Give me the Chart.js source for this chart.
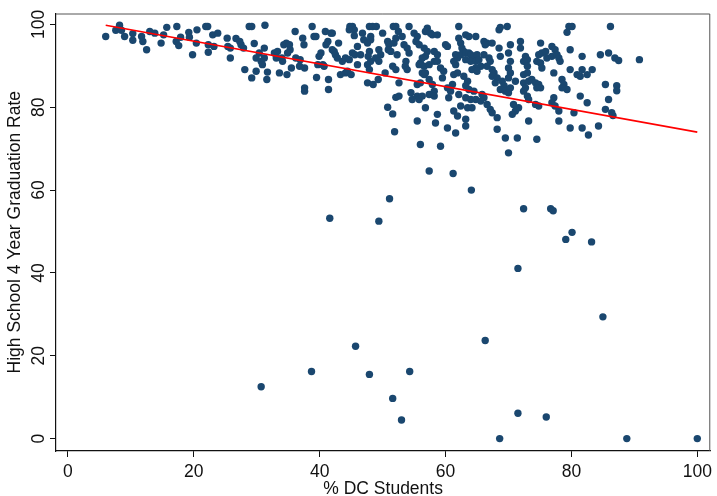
<!DOCTYPE html>
<html>
<head>
<meta charset="utf-8">
<script src="https://cdn.jsdelivr.net/npm/chart.js@4.4.1/dist/chart.umd.min.js"></script>
<style>
  html, body { margin: 0; padding: 0; background: #fff; }
  #wrap { width: 717px; height: 496px; }
</style>
</head>
<body>
<div id="wrap"><canvas id="gradChart" width="717" height="496"></canvas></div>
<script>
(function () {
  "use strict";

  // % DC students per school
  var pctDC = [
    6.0, 8.2, 7.6, 8.5, 9.0, 10.3, 10.3, 11.7, 11.9, 13.0, 13.8, 12.5, 14.8, 15.7, 15.2, 17.3, 17.2, 17.6,
    19.2, 19.3, 19.8, 20.5, 20.4, 22.2, 21.9, 22.3, 22.3, 23.0, 23.8, 23.2, 25.3, 25.4, 25.8, 25.8, 26.7, 17.9,
    27.3, 27.5, 27.9, 28.8, 29.2, 29.6, 28.1, 29.9, 29.2, 29.9, 30.4, 30.7, 31.2, 31.2, 30.9, 31.3, 31.7, 31.6,
    32.8, 33.1, 33.3, 33.6, 34.3, 34.7, 35.2, 35.3, 34.9, 34.0, 34.1, 34.8, 35.5, 36.1, 36.2, 36.9, 37.3, 37.5,
    37.6, 37.6, 38.8, 36.8, 37.6, 39.1, 39.4, 39.5, 39.9, 40.2, 39.7, 40.5, 40.7, 40.9, 41.3, 41.0, 41.8, 42.0,
    41.4, 41.4, 42.0, 42.3, 42.5, 43.0, 42.8, 43.3, 44.1, 44.4, 45.0, 43.6, 44.1, 44.7, 45.2, 45.6, 46.5, 46.0,
    44.8, 45.2, 45.5, 45.5, 44.7, 46.0, 46.8, 47.0, 47.6, 47.9, 48.4, 49.0, 48.1, 48.1, 47.9, 47.7, 48.1, 47.6,
    47.9, 47.6, 48.5, 49.3, 49.4, 49.7, 48.9, 49.4, 50.0, 50.4, 50.8, 51.0, 50.9, 51.3, 51.7, 52.1, 51.8, 52.1,
    52.5, 52.3, 51.6, 52.1, 52.6, 52.1, 52.6, 50.8, 51.6, 51.9, 53.1, 53.4, 53.9, 54.2, 53.7, 53.6, 53.9,
    55.0, 55.5, 55.3, 55.8, 54.2, 57.1, 56.8, 57.6, 57.9, 58.7, 56.6, 57.1, 56.8, 56.3, 56.0, 55.8, 56.6, 57.4,
    58.2, 58.7, 58.2, 58.7, 60.0, 60.3, 59.2, 59.7, 59.5, 56.3, 56.6, 56.8, 57.4, 54.5, 54.7, 55.5, 55.8, 56.3,
    55.5, 56.0, 57.9, 58.2, 57.4, 58.2, 56.8, 55.5, 56.0, 58.7, 58.4, 59.2, 60.5, 60.8, 61.1, 60.3, 61.3, 61.6,
    61.3, 61.9, 61.6, 62.1, 62.1, 62.4, 62.6, 62.9, 63.2, 63.7, 64.8, 62.4, 63.2, 63.7, 64.0, 64.5, 65.0, 63.2,
    64.0, 64.8, 65.3, 65.6, 64.8, 64.2, 65.0, 61.9, 62.9, 63.5, 63.2, 62.1, 63.2, 63.7, 64.5, 64.0, 64.8, 61.3,
    62.4, 63.5, 64.2, 61.9, 63.2, 63.2, 60.3, 61.6, 65.8, 66.1, 65.6, 66.6, 66.1, 66.6, 66.3, 67.4, 66.1, 66.9,
    67.1, 66.6, 67.4, 67.7, 67.4, 68.2, 67.9, 68.5, 68.7, 69.8, 68.5, 68.7, 69.0, 69.3, 68.7, 69.5, 67.1, 67.4,
    68.2, 68.2, 69.5, 70.0, 70.3, 70.0, 70.3, 70.0, 70.3, 70.0, 70.3, 70.0, 71.1, 71.9, 71.9, 72.7, 73.0, 72.4,
    73.0, 72.4, 73.0, 72.4, 72.7, 72.4, 73.0, 73.2, 70.8, 71.1, 71.6, 70.6, 73.2, 73.7, 73.2, 71.4, 74.5, 75.1,
    74.8, 75.3, 74.5, 75.1, 75.3, 74.3, 74.8, 75.1, 74.5, 74.3, 74.8, 75.9, 76.1, 76.9, 77.4, 76.9, 77.7, 78.0,
    78.2, 79.6, 80.1, 79.3, 79.8, 77.2, 78.5, 78.8, 79.3, 78.5, 77.2, 76.9, 77.4, 78.0, 78.0, 79.8, 80.9, 81.4,
    81.7, 82.5, 83.3, 81.7, 81.4, 82.5, 80.4, 79.8, 81.7, 82.7, 84.3, 84.6, 85.9, 86.9, 86.2, 85.4, 85.9, 85.4,
    86.4, 87.2, 86.6, 87.5, 90.8, 87.2,
    57.4, 61.2, 64.1, 51.1, 41.6, 49.4, 72.4, 76.7, 77.1, 80.1, 79.1, 83.2, 71.5, 85.0, 66.3, 45.7, 38.7, 47.9,
    54.3, 51.6, 53.0, 71.5, 76.0, 68.6, 88.8, 100, 30.7
  ];

  // 4-year graduation rate, same order as pctDC
  var gradRate = [
    97.1, 99.8, 98.6, 98.6, 97.1, 97.8, 96.2, 97.1, 95.9, 98.3, 97.9, 93.9, 95.5, 99.3, 97.5, 99.5, 95.9, 94.9,
    98.1, 96.9, 92.7, 98.7, 95.5, 99.5, 99.5, 95.1, 93.3, 97.5, 97.9, 94.7, 96.7, 94.7, 94.3, 91.9, 96.6, 96.9,
    95.9, 95.1, 94.3, 99.5, 99.5, 95.4, 89.1, 88.7, 87.1, 91.9, 93.1, 91.1, 94.3, 91.9, 90.3, 99.8, 88.5, 86.7,
    93.1, 91.9, 93.5, 88.3, 95.1, 95.5, 95.1, 93.9, 93.1, 91.9, 91.1, 87.9, 89.5, 98.3, 91.9, 91.5, 96.7, 95.1,
    84.7, 83.9, 99.5, 89.9, 89.5, 97.1, 97.1, 87.2, 92.3, 93.1, 90.3, 90.3, 89.9, 98.3, 95.9, 95.1, 97.9, 97.9,
    86.7, 84.3, 93.9, 93.5, 92.7, 95.5, 91.9, 87.9, 88.3, 88.7, 87.9, 91.1, 91.9, 91.5, 93.1, 92.7, 92.7, 94.7,
    99.5, 99.5, 98.7, 97.3, 98.7, 90.3, 97.9, 96.3, 95.5, 99.5, 99.5, 99.5, 97.1, 96.3, 93.5, 92.3, 91.1, 90.3,
    89.1, 85.9, 85.5, 86.7, 93.9, 92.7, 91.9, 91.1, 97.9, 88.3, 95.9, 95.1, 93.9, 93.5, 99.5, 99.5, 95.5, 96.7,
    98.3, 92.7, 89.9, 89.1, 85.9, 82.4, 82.7, 80.0, 78.4, 74.1, 97.1, 95.1, 94.3, 99.5, 91.1, 89.9, 89.1,
    97.9, 97.1, 95.9, 95.1, 93.1, 99.1, 98.3, 97.9, 97.5, 97.5, 94.3, 93.5, 92.3, 91.9, 90.7, 90.3, 89.9, 90.3,
    93.5, 92.7, 91.1, 91.1, 95.1, 94.7, 89.5, 88.7, 87.1, 88.3, 87.9, 88.3, 86.7, 83.5, 81.9, 82.7, 81.9, 82.7,
    85.5, 85.9, 85.5, 83.9, 83.1, 82.7, 79.9, 76.7, 71.0, 78.3, 76.2, 70.6, 82.3, 83.9, 85.5, 84.7, 87.9, 90.3,
    91.1, 91.9, 92.7, 99.5, 96.7, 95.5, 94.3, 93.5, 97.5, 97.1, 97.1, 92.7, 93.1, 93.1, 92.7, 92.3, 92.7, 91.5,
    91.1, 91.1, 91.5, 89.9, 89.5, 89.1, 88.7, 88.3, 87.5, 86.3, 85.2, 83.1, 82.3, 84.3, 83.9, 81.9, 81.9, 79.1,
    80.3, 79.9, 79.9, 77.9, 77.1, 75.5, 75.0, 73.8, 83.1, 82.3, 81.5, 80.7, 95.9, 95.5, 95.1, 95.5, 92.7, 91.9,
    91.1, 89.9, 89.1, 88.3, 87.5, 87.1, 85.9, 98.7, 99.3, 99.5, 94.3, 92.3, 86.3, 85.2, 84.3, 83.9, 79.5, 78.7,
    77.5, 74.7, 72.6, 69.0, 95.1, 93.1, 91.1, 89.5, 88.3, 87.1, 84.7, 83.5, 86.3, 95.9, 94.3, 92.3, 91.5, 91.1,
    89.9, 87.9, 88.3, 85.9, 84.7, 83.9, 82.7, 81.9, 80.7, 79.1, 79.9, 78.3, 86.3, 86.7, 76.7, 72.6, 72.3, 95.5,
    92.7, 93.1, 91.1, 90.7, 89.5, 85.9, 85.5, 84.7, 84.7, 80.7, 80.3, 93.5, 91.9, 94.7, 93.9, 92.3, 92.7, 91.9,
    91.1, 99.5, 99.5, 98.1, 93.9, 88.3, 86.7, 85.5, 84.3, 84.7, 82.3, 81.1, 80.3, 79.1, 76.7, 89.1, 87.9, 87.5,
    89.1, 87.9, 89.1, 92.3, 82.7, 81.1, 78.7, 75.0, 75.0, 73.3, 75.5, 92.7, 93.1, 91.9, 99.5, 85.5, 81.9, 79.5,
    78.7, 85.2, 78.0, 91.3, 91.5, 84.0,
    64.6, 64.0, 60.0, 57.9, 53.2, 52.5, 55.5, 55.5, 55.0, 49.8, 48.1, 47.5, 41.1, 29.4, 23.7, 22.3, 16.2, 15.5,
    16.2, 9.7, 4.5, 6.1, 5.2, 0, 0, 0, 12.5
  ];

  // fitted line end points
  var fitX = [6, 100];
  var fitY = [99.8, 74.0];

  var yTicks = [0, 20, 40, 60, 80, 100];

  var dots = [];
  for (var i = 0; i < pctDC.length; i++) {
    dots.push({ x: pctDC[i], y: gradRate[i] });
  }
  var fit = [];
  for (var j = 0; j < fitX.length; j++) {
    fit.push({ x: fitX[j], y: fitY[j] });
  }

  var font = "'Liberation Sans', Arial, Helvetica, sans-serif";
  var ink = "#111";

  // box round the plot + y labels written sideways, Stata style
  var stataFrame = {
    id: "stataFrame",
    afterDraw: function (chart) {
      var c = chart.ctx;
      var a = chart.chartArea;
      c.save();
      c.strokeStyle = "#555";
      c.lineWidth = 1;
      c.beginPath();
      c.moveTo(a.left, a.top + 0.5);
      c.lineTo(a.right - 0.5, a.top + 0.5);
      c.lineTo(a.right - 0.5, a.bottom);
      c.stroke();

      var ys = chart.scales.y;
      c.fillStyle = ink;
      c.font = "17.5px " + font;
      c.textAlign = "center";
      c.textBaseline = "alphabetic";
      yTicks.forEach(function (v) {
        var py = ys.getPixelForValue(v);
        c.save();
        c.translate(44, py);
        c.rotate(-Math.PI / 2);
        c.fillText(String(v), 0, 0);
        c.restore();
      });
      c.restore();
    },
  };

  new Chart(document.getElementById("gradChart"), {
    type: "scatter",
    data: {
      datasets: [
        {
          label: "Fitted values",
          type: "line",
          data: fit,
          borderColor: "#ff0000",
          borderWidth: 1.6,
          pointRadius: 0,
          fill: false,
          order: 0,
        },
        {
          label: "Schools",
          data: dots,
          backgroundColor: "#1a476f",
          borderWidth: 0,
          pointRadius: 3.7,
          order: 1,
        },
      ],
    },
    plugins: [stataFrame],
    options: {
      responsive: false,
      animation: false,
      layout: {
        padding: { top: 12, right: 5, bottom: 0, left: 0 },
      },
      scales: {
        x: {
          type: "linear",
          min: -1.9,
          max: 102.06,
          afterFit: function (s) { s.height = 45; },
          grid: {
            drawOnChartArea: false,
            drawTicks: true,
            tickLength: 6,
            color: ink,
          },
          border: { display: true, color: ink, width: 1.2 },
          ticks: {
            stepSize: 20,
            includeBounds: false,
            maxRotation: 0,
            padding: 5,
            color: ink,
            font: { family: font, size: 17.5 },
          },
          title: {
            display: true,
            text: "% DC Students",
            color: ink,
            padding: { top: 0, bottom: -4 },
            font: { family: font, size: 17.5, lineHeight: 1.2 },
          },
        },
        y: {
          type: "linear",
          min: -3.0,
          max: 102.65,
          afterFit: function (s) { s.width = 56; },
          grid: {
            drawOnChartArea: false,
            drawTicks: true,
            tickLength: 6,
            color: ink,
          },
          border: { display: true, color: ink, width: 1.2 },
          ticks: {
            stepSize: 20,
            includeBounds: false,
            color: "rgba(0,0,0,0)",
            font: { family: font, size: 17.5 },
          },
          title: {
            display: true,
            text: "High School 4 Year Graduation Rate",
            color: ink,
            padding: { top: 4.5, bottom: 0 },
            font: { family: font, size: 17.5, lineHeight: 1.2 },
          },
        },
      },
      plugins: {
        legend: { display: false },
        tooltip: { enabled: false },
      },
    },
  });
})();
</script>
</body>
</html>
